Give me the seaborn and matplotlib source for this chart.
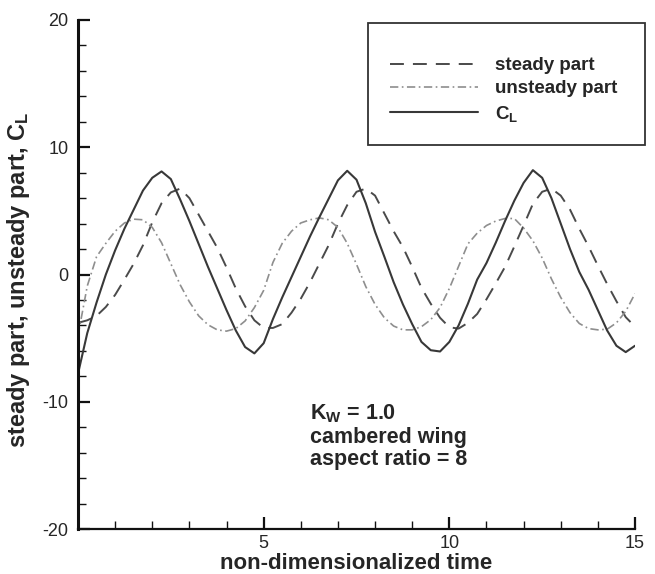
import numpy as np
import pandas as pd
import matplotlib
matplotlib.use("Agg")
import matplotlib.pyplot as plt
import seaborn as sns
from matplotlib.patches import Rectangle
from matplotlib.ticker import MultipleLocator, FixedLocator

# sample times (non-dimensional), every 0.25
time = np.linspace(0.0, 15.0, 61)

steady = [
    -3.8, -3.6, -3.25, -2.55, -1.6, -0.4, 0.85, 2.3, 4.1, 5.6, 6.45, 6.75,
    6.0, 4.7, 3.4, 2.1, 0.55, -1.1, -2.5, -3.6,
    -4.2, -4.2, -3.9, -3.0, -1.9, -0.6, 0.85, 2.3, 4.0, 5.45, 6.5, 6.75,
    6.2, 4.8, 3.4, 2.15, 0.6, -1.05, -2.3, -3.4,
    -4.15, -4.25, -3.8, -3.1, -1.95, -0.7, 0.6, 2.2, 3.85, 5.55, 6.5, 6.75,
    6.2, 5.1, 3.6, 2.2, 0.7, -0.75, -2.1, -3.35, -4.1,
]

unsteady = [
    -4.8, -0.9, 1.4, 2.45, 3.4, 4.05, 4.35, 4.3, 3.7, 2.5, 0.85, -0.8,
    -2.15, -3.25, -3.95, -4.35, -4.45, -4.25, -3.65, -2.6,
    -1.25, 0.95, 2.45, 3.4, 4.05, 4.3, 4.45, 4.3, 3.7, 2.45, 0.8, -0.95,
    -2.35, -3.4, -4.05, -4.35, -4.35, -4.1, -3.55, -2.6,
    -1.1, 0.65, 2.4, 3.25, 3.85, 4.2, 4.4, 4.4, 3.65, 2.65, 1.3, -0.35,
    -1.8, -3.0, -3.85, -4.25, -4.35, -4.3, -3.8, -2.9, -1.5,
]

cl = [
    -7.8, -4.6, -2.2, 0.0, 1.9, 3.6, 5.1, 6.6, 7.6, 8.1, 7.5, 5.9,
    4.2, 2.4, 0.6, -1.1, -2.8, -4.4, -5.7, -6.2,
    -5.4, -3.5, -1.8, -0.2, 1.4, 3.0, 4.5, 5.95, 7.4, 8.15, 7.45, 5.6,
    3.35, 1.4, -0.6, -2.35, -3.9, -5.3, -5.95, -6.05,
    -5.3, -4.0, -2.3, -0.4, 0.9, 2.5, 4.2, 5.8, 7.2, 8.2, 7.6, 6.0,
    4.0, 2.0, 0.2, -1.2, -2.8, -4.4, -5.6, -6.1, -5.6,
]

series_labels = ["steady part", "unsteady part", "C$_L$"]

sns.set_style("white")
plt.rcParams["font.family"] = ["Liberation Sans", "DejaVu Sans"]
plt.rcParams["mathtext.fontset"] = "custom"
plt.rcParams["mathtext.rm"] = "Liberation Sans:bold"
plt.rcParams["mathtext.it"] = "Liberation Sans:bold"
plt.rcParams["mathtext.bf"] = "Liberation Sans:bold"
plt.rcParams["mathtext.default"] = "rm"
plt.rcParams["lines.scale_dashes"] = False
plt.rcParams["axes.unicode_minus"] = False

df = pd.DataFrame({"t": time, "steady": steady, "unsteady": unsteady, "cl": cl})

fig = plt.figure(figsize=(6.55, 5.74), dpi=100)
ax = fig.add_axes([78 / 655, 45 / 574, 557 / 655, 509 / 574])

sns.lineplot(data=df, x="t", y="steady", ax=ax, color="#4a4a4a", lw=1.4)
sns.lineplot(data=df, x="t", y="unsteady", ax=ax, color="#8e8e8e", lw=1.2)
sns.lineplot(data=df, x="t", y="cl", ax=ax, color="#383838", lw=1.5)

line_s, line_u, line_c = ax.lines[:3]
line_s.set_dashes((10, 6.5))
line_u.set_dashes((6, 2.5, 1.2, 2.5))
line_c.set_linestyle("-")

ax.set_xlim(0, 15)
ax.set_ylim(-20, 20)
ax.xaxis.set_major_locator(FixedLocator([5, 10, 15]))
ax.xaxis.set_minor_locator(MultipleLocator(1))
ax.yaxis.set_major_locator(MultipleLocator(10))
ax.yaxis.set_minor_locator(MultipleLocator(2))

for side in ("top", "right"):
    ax.spines[side].set_visible(False)
ax.spines["left"].set_linewidth(2.2)
ax.spines["bottom"].set_linewidth(1.6)
ax.spines["left"].set_color("#111111")
ax.spines["bottom"].set_color("#111111")

ax.tick_params(which="major", direction="in", length=8.5, width=1.6,
               color="#111111", labelsize=13, pad=4, left=True, bottom=True)
ax.tick_params(which="minor", direction="in", length=5.5, width=1.0,
               color="#111111", left=True, bottom=True)
ax.tick_params(axis="y", which="major", pad=7)

ax.set_xlabel("non-dimensionalized time", fontsize=16, fontweight="bold")
ax.set_ylabel("steady part, unsteady part, C$_L$", fontsize=17, fontweight="bold")
ax.xaxis.label.set_verticalalignment("baseline")
ax.xaxis.set_label_coords(0.5, -0.078)
ax.yaxis.set_label_coords(-0.083, 0.49)

ax.text(0.4165, 0.2495, "K$_W$ = 1.0\ncambered wing\naspect ratio = 8",
        transform=ax.transAxes, ha="left", va="top", fontsize=15.5,
        fontweight="bold", linespacing=1.12)

leg = ax.legend([line_s, line_u, line_c], series_labels,
                loc="upper left", bbox_to_anchor=(390 / 655, 1 - 57 / 574),
                bbox_transform=fig.transFigure, frameon=False, borderpad=0,
                borderaxespad=0, handlelength=4.7, handletextpad=0.9,
                labelspacing=0.33, prop={"weight": "bold", "size": 13.5})

fig.add_artist(Rectangle((368 / 655, 1 - 145 / 574), 277 / 655, 122 / 574,
                         transform=fig.transFigure, facecolor="none",
                         edgecolor="#333333", lw=1.3))

fig.savefig("out.png", dpi=100, facecolor="white")
